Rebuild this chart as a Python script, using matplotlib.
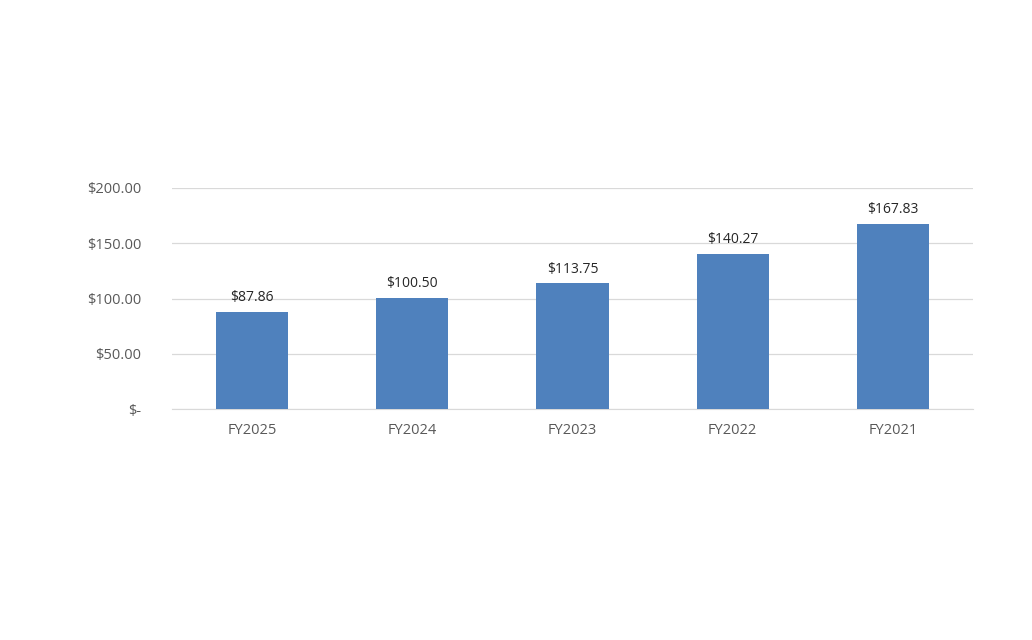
import matplotlib
matplotlib.use("Agg")
import matplotlib.pyplot as plt
from matplotlib.ticker import FuncFormatter

categories = ["FY2025", "FY2024", "FY2023", "FY2022", "FY2021"]
values = [87.86, 100.50, 113.75, 140.27, 167.83]
yticks = [0, 50, 100, 150, 200]

plt.rcParams['font.family'] = ['Open Sans', 'DejaVu Sans']
fig = plt.figure(figsize=(10.32, 6.4), dpi=100)
ax = fig.add_axes([172/1032, 1-409/640, (973-172)/1032, (409-188)/640])
x = range(len(categories))
bars = ax.bar(x, values, width=0.45, color="#4F81BD", zorder=3)
for xi, v in zip(x, values):
    ax.text(xi, v + 6, f"${v:,.2f}", ha="center", va="bottom", fontsize=10, color="#262626")
ax.set_xlim(-0.5, len(categories) - 0.5)
ax.set_ylim(0, 200)
ax.set_yticks(yticks)
ax.yaxis.set_major_formatter(FuncFormatter(lambda v, p: "$-" if v == 0 else f"${v:,.2f}"))
ax.set_xticks(list(x))
ax.set_xticklabels(categories)
ax.grid(axis="y", color="#d9d9d9", linewidth=0.9, zorder=0)
for s in ["top", "right", "left"]:
    ax.spines[s].set_visible(False)
ax.spines["bottom"].set_color("#d9d9d9")
ax.tick_params(axis="both", length=0, labelsize=10.5, colors="#595959")
ax.tick_params(axis="y", pad=22)
ax.tick_params(axis="x", pad=10)
fig.savefig("out.png", dpi=100, facecolor="white")
